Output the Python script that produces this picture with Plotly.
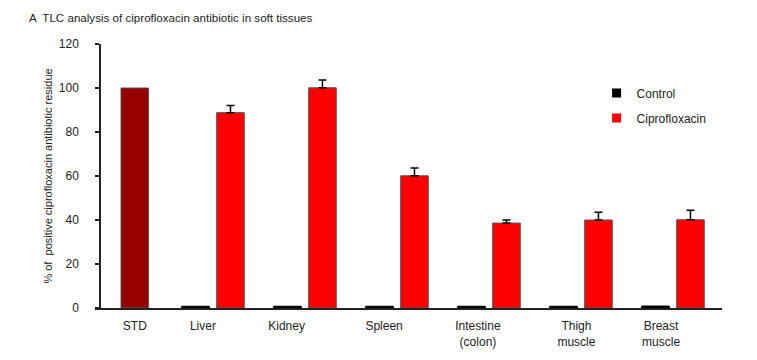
import plotly.graph_objects as go

# ---- data ----
categories = ["STD", "Liver", "Kidney", "Spleen", "Intestine<br>(colon)", "Thigh<br>muscle", "Breast<br>muscle"]
std_value = [100]
control_values = [0.8, 0.8, 0.8, 0.8, 0.8, 0.9]          # Liver .. Breast muscle
cipro_values = [88.8, 100.1, 60.1, 38.6, 40.0, 40.1]      # Liver .. Breast muscle
cipro_errors = [3.2, 3.5, 3.5, 1.4, 3.5, 4.3]
y_ticks = [0, 20, 40, 60, 80, 100, 120]

# ---- style ----
label_shift = [0.15, -0.11, -0.2, -0.14, -0.12, -0.05, -0.13]
BW = 0.30
FONT = "Liberation Sans, Arial, sans-serif"
outline = dict(color="#555555", width=1)
PAGE = 8  # page body margin of the viewer

idx = list(range(len(categories)))
tissue_idx = idx[1:]

fig = go.Figure()

fig.add_trace(go.Bar(
    x=[idx[0]], y=std_value, width=BW, offset=0.15 - BW / 2,
    marker=dict(color="#960000", line=outline), showlegend=False,
))
fig.add_trace(go.Bar(
    x=tissue_idx, y=control_values, width=BW, offset=-0.19 - BW / 2,
    marker=dict(color="#000000", line=dict(color="#000000", width=1)), showlegend=False,
))
fig.add_trace(go.Bar(
    x=tissue_idx, y=cipro_values, width=BW, offset=0.19 - BW / 2,
    marker=dict(color="#FF0000", line=outline), showlegend=False,
    error_y=dict(type="data", array=cipro_errors, symmetric=False, arrayminus=[0] * len(cipro_errors),
                 color="#000000", thickness=1.5, width=4),
))

# legend entries (small squares like the reference)
fig.add_trace(go.Scatter(x=[None], y=[None], mode="markers", name="Control",
                         marker=dict(symbol="square", size=9, color="#000000"), legendgroup="a"))
fig.add_trace(go.Scatter(x=[None], y=[None], mode="markers", name="Ciprofloxacin",
                         marker=dict(symbol="square", size=9, color="#FF0000"), legendgroup="b"))

# plot area edges in page pixels
plot_l, plot_r = 95, 722
plot_t, plot_b = 44, 308
fig.update_layout(
    width=757, height=360,
    margin=dict(l=plot_l - PAGE, r=757 - (plot_r - PAGE), t=plot_t - PAGE, b=360 - (plot_b - PAGE),
                autoexpand=False),
    paper_bgcolor="white", plot_bgcolor="white",
    barmode="overlay",
    font=dict(family=FONT, size=12, color="#222222"),
    title=dict(text="A  TLC analysis of ciprofloxacin antibiotic in soft tissues",
               x=(29 - PAGE) / 757, xanchor="left", y=1 - (18 - PAGE) / 360, yanchor="middle",
               font=dict(size=11.6, color="#222222")),
    xaxis=dict(
        range=[(plot_l - 121) / 92, (plot_r - 121) / 92],
        tickvals=[i + s for i, s in zip(idx, label_shift)],
        ticktext=categories,
        showline=True, linecolor="#222222", linewidth=1.5,
        ticks="", showgrid=False, zeroline=False,
        ticklabelstandoff=6, automargin=False,
        tickfont=dict(size=12),
    ),
    yaxis=dict(
        range=[0, 120],
        tickvals=y_ticks,
        ticktext=[str(v) for v in y_ticks],
        anchor="free", position=(100 - plot_l) / (plot_r - plot_l),
        showline=True, linecolor="#222222", linewidth=1.5,
        ticks="outside", ticklen=4, tickcolor="#222222", tickwidth=1.5,
        showgrid=False, zeroline=False,
        ticklabelstandoff=14, automargin=False,
        tickfont=dict(size=12),
        title=dict(text="% of  positive ciprofloxacin antibiotic residue",
                   font=dict(size=11), standoff=3),
    ),
    legend=dict(x=0.80, y=0.869, xanchor="left", yanchor="top",
                bgcolor="rgba(0,0,0,0)", font=dict(size=12),
                traceorder="grouped", tracegroupgap=6),
)

fig.write_html("out.html")
